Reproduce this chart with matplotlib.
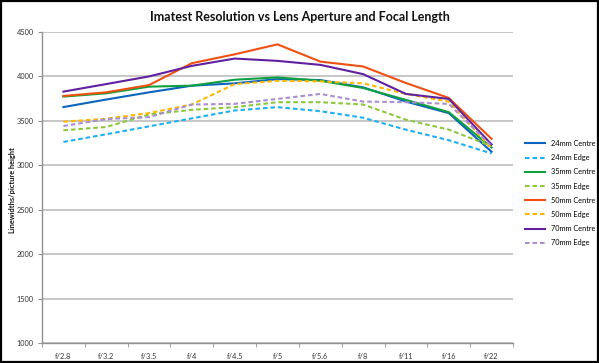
import matplotlib
matplotlib.use("Agg")
import matplotlib.pyplot as plt
from matplotlib.patches import Rectangle

apertures = ["f/2.8", "f/3.2", "f/3.5", "f/4", "f/4.5", "f/5", "f/5.6", "f/8", "f/11", "f/16", "f/22"]

mm24_centre = [3655, 3740, 3821, 3896, 3922, 3970, 3959, 3877, 3717, 3587, 3152]
mm24_edge   = [3263, 3349, 3438, 3528, 3617, 3654, 3609, 3535, 3401, 3282, 3133]
mm35_centre = [3773, 3810, 3885, 3896, 3963, 3989, 3952, 3870, 3736, 3598, 3200]
mm35_edge   = [3394, 3431, 3572, 3624, 3654, 3710, 3710, 3684, 3513, 3401, 3215]
mm50_centre = [3780, 3821, 3903, 4149, 4249, 4361, 4167, 4112, 3926, 3758, 3297]
mm50_edge   = [3490, 3524, 3587, 3684, 3914, 3950, 3944, 3922, 3803, 3717, 3189]
mm70_centre = [3829, 3914, 4000, 4119, 4201, 4175, 4130, 4026, 3803, 3747, 3234]
mm70_edge   = [3442, 3520, 3542, 3684, 3691, 3747, 3803, 3717, 3710, 3691, 3215]

series_labels = ["24mm Centre", "24mm Edge", "35mm Centre", "35mm Edge",
                 "50mm Centre", "50mm Edge", "70mm Centre", "70mm Edge"]
series_values = [mm24_centre, mm24_edge, mm35_centre, mm35_edge,
                 mm50_centre, mm50_edge, mm70_centre, mm70_edge]
colors = ["#0a64c0", "#1eb0f0", "#10a040", "#8cc83c",
          "#f05010", "#ffb800", "#6020a0", "#a890d0"]
dashed = [False, True, False, True, False, True, False, True]

title = "Imatest Resolution vs Lens Aperture and Focal Length"
ylabel = "Linewidths/picture height"
yticks = [1000, 1500, 2000, 2500, 3000, 3500, 4000, 4500]

plt.rcParams['font.family'] = ['Lato', 'DejaVu Sans']

fig = plt.figure(figsize=(5.99, 3.63), dpi=100)
fig.patch.set_facecolor("white")
ax = fig.add_axes([42/599, 1 - 343/363, (513-42)/599, (343-32)/363])

x = list(range(len(apertures)))
handles = []
for lab, vals, c, d in zip(series_labels, series_values, colors, dashed):
    ls = (0, (2.2, 1.4)) if d else "-"
    h, = ax.plot(x, vals, color=c, lw=1.5, linestyle=ls, label=lab)
    handles.append(h)

ax.set_xlim(-0.5, len(apertures) - 0.5)
ax.set_ylim(1000, 4500)
ax.set_yticks(yticks)
ax.set_yticklabels([str(v) for v in yticks], fontsize=5.3, color="#333333")
ax.set_xticks(x)
ax.set_xticklabels(apertures, fontsize=5.3, color="#333333")
ax.tick_params(axis="x", which="major", length=0, pad=7)
ax.set_xticks([i - 0.5 for i in range(len(apertures) + 1)], minor=True)
ax.tick_params(axis="x", which="minor", length=3, color="#909090", direction="out")
ax.tick_params(axis="y", length=3, color="#909090", pad=3)
ax.yaxis.grid(True, color="#b8b8b8", lw=1.1)
ax.set_axisbelow(True)
for s in ["top", "right"]:
    ax.spines[s].set_visible(False)
ax.spines["left"].set_color("#909090")
ax.spines["bottom"].set_color("#909090")
ax.spines["left"].set_linewidth(1.0)
ax.spines["bottom"].set_linewidth(1.0)

fig.text(13/599, 1 - 190/363, ylabel, rotation=90, ha="center", va="center",
         fontsize=5.3, fontweight="bold", color="#111111")
fig.text(0.5, 1 - 17/363, title, ha="center", va="center",
         fontsize=9, fontweight="bold", color="#111111")

leg = fig.legend(handles=handles, labels=series_labels, loc="upper left",
                 bbox_to_anchor=(525/599, 1 - 140/363), frameon=False,
                 fontsize=5.3, handlelength=2.7, handletextpad=0.8,
                 labelspacing=0.98, borderaxespad=0, borderpad=0)

fig.patches.append(Rectangle((0.002, 0.003), 0.996, 0.994, transform=fig.transFigure,
                             fill=False, edgecolor="black", lw=1.6))

fig.savefig("out.png", dpi=100, facecolor="white")
